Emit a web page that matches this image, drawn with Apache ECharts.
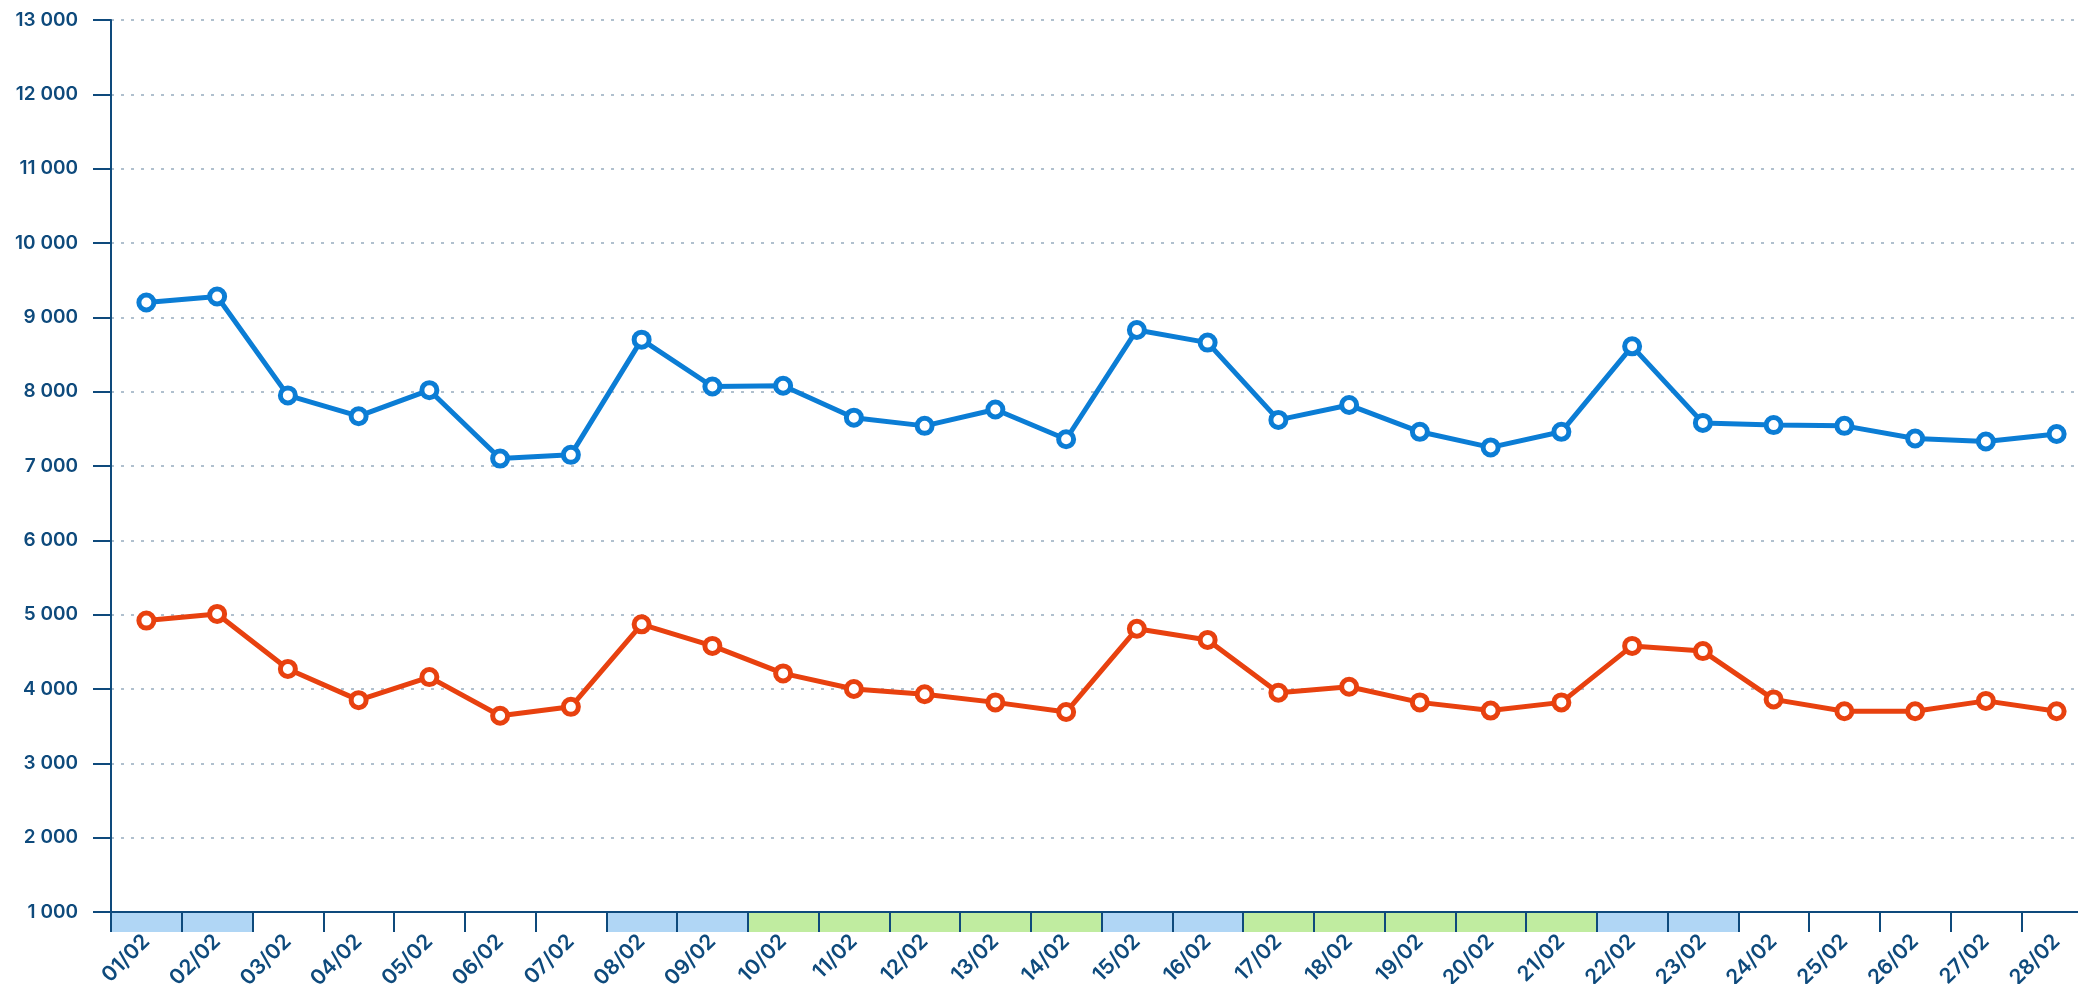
<!DOCTYPE html>
<html lang="fr">
<head>
<meta charset="UTF-8">
<title>Février</title>
<script src="https://cdn.jsdelivr.net/npm/echarts@6/dist/echarts.min.js"></script>
<style>
html, body { margin: 0; padding: 0; background: #fff; }
#chart { width: 2078px; height: 984px; }
</style>
</head>
<body>
<div id="chart"></div>
<script>
// jours du mois
var days = ['01/02','02/02','03/02','04/02','05/02','06/02','07/02','08/02','09/02','10/02',
    '11/02','12/02','13/02','14/02','15/02','16/02','17/02','18/02','19/02','20/02',
    '21/02','22/02','23/02','24/02','25/02','26/02','27/02','28/02'];

// courbe bleue
var blueValues = [9200, 9280, 7950, 7670, 8020, 7100, 7150, 8700, 8070, 8080,
    7650, 7540, 7760, 7360, 8830, 8660, 7620, 7820, 7460, 7250,
    7460, 8610, 7580, 7550, 7540, 7370, 7330, 7430];

// courbe rouge
var redValues = [4920, 5010, 4270, 3850, 4160, 3640, 3760, 4870, 4580, 4210,
    4000, 3930, 3820, 3690, 4810, 4660, 3950, 4030, 3820, 3710,
    3820, 4580, 4510, 3860, 3700, 3700, 3840, 3700];

// type de jour : w = bleu, g = vert, '' = rien
var dayType = ['w','w','','','','','','w','w','g',
    'g','g','g','g','w','w','g','g','g','g',
    'g','w','w','','','','',''];

var yTicks = { min: 1000, max: 13000, interval: 1000 };

var bandColors = { w: '#b0d6f5', g: '#c0eca0', '': 'rgba(0,0,0,0)' };
var axisColor = '#0e4a7c';
var font = 'Inter';

function fmt(v) {
    return String(v).replace(/\B(?=(\d{3})+(?!\d))/g, ' ');
}

var chart = echarts.init(document.getElementById('chart'));

function lineSeries(name, data, color) {
    return {
        name: name,
        type: 'line',
        data: data,
        xAxisIndex: 0,
        yAxisIndex: 0,
        symbol: 'circle',
        symbolSize: 15,
        showAllSymbol: true,
        lineStyle: { color: color, width: 5 },
        itemStyle: { color: '#fff', borderColor: color, borderWidth: 5 },
        z: 5
    };
}

chart.setOption({
    animation: false,
    grid: [
        { left: 111, top: 20, width: 1981, height: 892, outerBoundsMode: 'none' },
        { left: 111, top: 912, width: 1981, height: 20, outerBoundsMode: 'none' }
    ],
    xAxis: [
        {
            type: 'category',
            gridIndex: 0,
            data: days,
            boundaryGap: true,
            axisLine: { lineStyle: { color: axisColor, width: 2 } },
            axisTick: { show: true, length: 20, interval: 0, lineStyle: { color: axisColor, width: 2 } },
            axisLabel: {
                rotate: 45,
                margin: 26,
                interval: 0,
                color: axisColor,
                fontFamily: font,
                fontWeight: 600,
                fontSize: 21
            },
            splitLine: { show: false }
        },
        {
            // séparateurs qui traversent la bande de couleur
            type: 'category',
            gridIndex: 1,
            data: days,
            boundaryGap: true,
            axisLine: { show: false },
            axisTick: { show: false },
            axisLabel: { show: false },
            splitLine: { show: true, interval: 0, lineStyle: { color: axisColor, width: 2 } }
        }
    ],
    yAxis: [
        {
            type: 'value',
            gridIndex: 0,
            min: yTicks.min,
            max: yTicks.max,
            interval: yTicks.interval,
            axisLine: { show: true, lineStyle: { color: axisColor, width: 2 } },
            axisTick: { show: true, length: 18, lineStyle: { color: axisColor, width: 2 } },
            axisLabel: {
                margin: 33,
                color: axisColor,
                fontFamily: font,
                fontWeight: 600,
                fontSize: 19,
                formatter: fmt
            },
            splitLine: { lineStyle: { color: '#97acbf', width: 1.5, type: [3, 7] } }
        },
        {
            type: 'value',
            gridIndex: 1,
            min: 0,
            max: 1,
            show: false
        }
    ],
    series: [
        {
            type: 'bar',
            xAxisIndex: 1,
            yAxisIndex: 1,
            barWidth: '100%',
            barGap: 0,
            silent: true,
            z: -1,
            data: dayType.map(function (t) {
                return { value: 1, itemStyle: { color: bandColors[t] } };
            })
        },
        lineSeries('bleu', blueValues, '#0b7dd5'),
        lineSeries('rouge', redValues, '#e8410f')
    ]
});
</script>
</body>
</html>
